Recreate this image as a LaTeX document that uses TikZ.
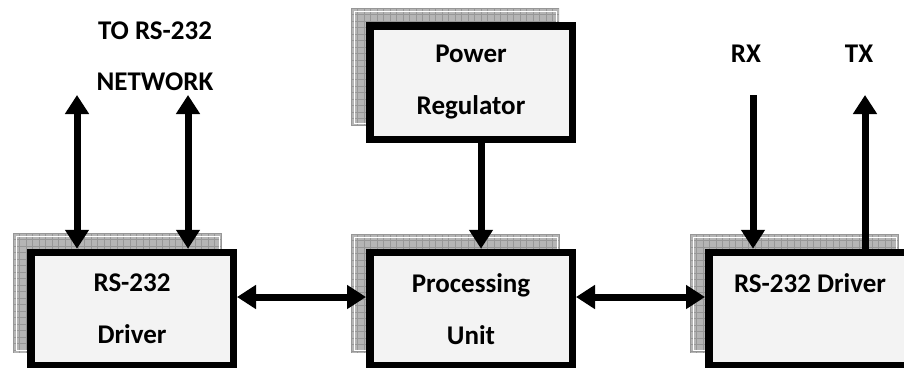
\documentclass[tikz,border=0pt]{standalone}
\usepackage{fontspec}
\setmainfont{Carlito}
\usetikzlibrary{arrows.meta}
\definecolor{shfill}{HTML}{B5B5B5}
\definecolor{shgrid}{HTML}{979797}
\definecolor{boxfill}{HTML}{F3F3F3}
\newcommand\shbox[4]{%
  \fill[shfill] (#1,#2) rectangle (#3,#4);
  \begin{scope}
    \clip (#1,#2) rectangle (#3,#4);
    \foreach \gx in {0,6.5,...,215} \draw[shgrid,line width=0.8pt] (#1+\gx,#2) -- (#1+\gx,#4);
    \foreach \gy in {0,6.5,...,125} \draw[shgrid,line width=0.8pt] (#1,#2+\gy) -- (#3,#2+\gy);
  \end{scope}
  \draw[white,line width=0.8pt] (#1+3,#2+3) rectangle (#3-3,#4-3);
}
\tikzset{
  blk/.style={draw=black, line width=7.5pt, fill=boxfill, minimum width=202.5pt,
    align=center, font=\fontsize{27}{52}\selectfont\bfseries, inner sep=0pt},
  lbl/.style={align=center, font=\fontsize{27}{51}\selectfont\bfseries, inner sep=0pt},
  arr/.style={line width=7pt, -{Triangle[length=19pt,width=23pt]}},
  dbl/.style={line width=7pt, {Triangle[length=19pt,width=23pt]}-{Triangle[length=19pt,width=23pt]}},
}
\begin{document}
\begin{tikzpicture}[x=1pt,y=-1pt]
\useasboundingbox (0,0) rectangle (904,367);
\clip (0,0) rectangle (904,367);
% shadows
\shbox{13}{233}{222}{353}
\shbox{351}{234}{560}{353}
\shbox{351}{8}{559}{126}
\shbox{690}{234}{899}{353}
% boxes
\node[blk, minimum height=113pt] (drvL) at (132,309) {RS-232\\Driver};
\node[blk, minimum height=113pt] (proc) at (471,309) {Processing\\Unit};
\node[blk, minimum height=113.5pt] (pw) at (471,82.5) {Power\\Regulator};
\node[blk, minimum height=113pt] (drvR) at (810,309) {RS-232 Driver\\\phantom{Driver}};
% labels
\node[lbl] (net) at (155,56) {TO RS-232\\NETWORK};
\node[lbl] (rx) at (746,54) {RX};
\node[lbl] (tx) at (859,54) {TX};
% free ends
\coordinate (n1) at (77,95);
\coordinate (n2) at (188,95);
\coordinate (rxe) at (753,95);
\coordinate (txe) at (865,95);
\coordinate (pwx) at (481,0);
\coordinate (hy) at (0,297);
% connectors
\draw[dbl] (n1) -- (drvL.north -| n1);
\draw[dbl] (n2) -- (drvL.north -| n2);
\draw[dbl] (drvL.east |- hy) -- (proc.west |- hy);
\draw[dbl] (proc.east |- hy) -- (drvR.west |- hy);
\draw[arr] (pw.south -| pwx) -- (proc.north -| pwx);
\draw[arr] (rxe) -- (drvR.north -| rxe);
\draw[arr] (drvR.north -| txe) -- (txe);
\end{tikzpicture}
\end{document}
